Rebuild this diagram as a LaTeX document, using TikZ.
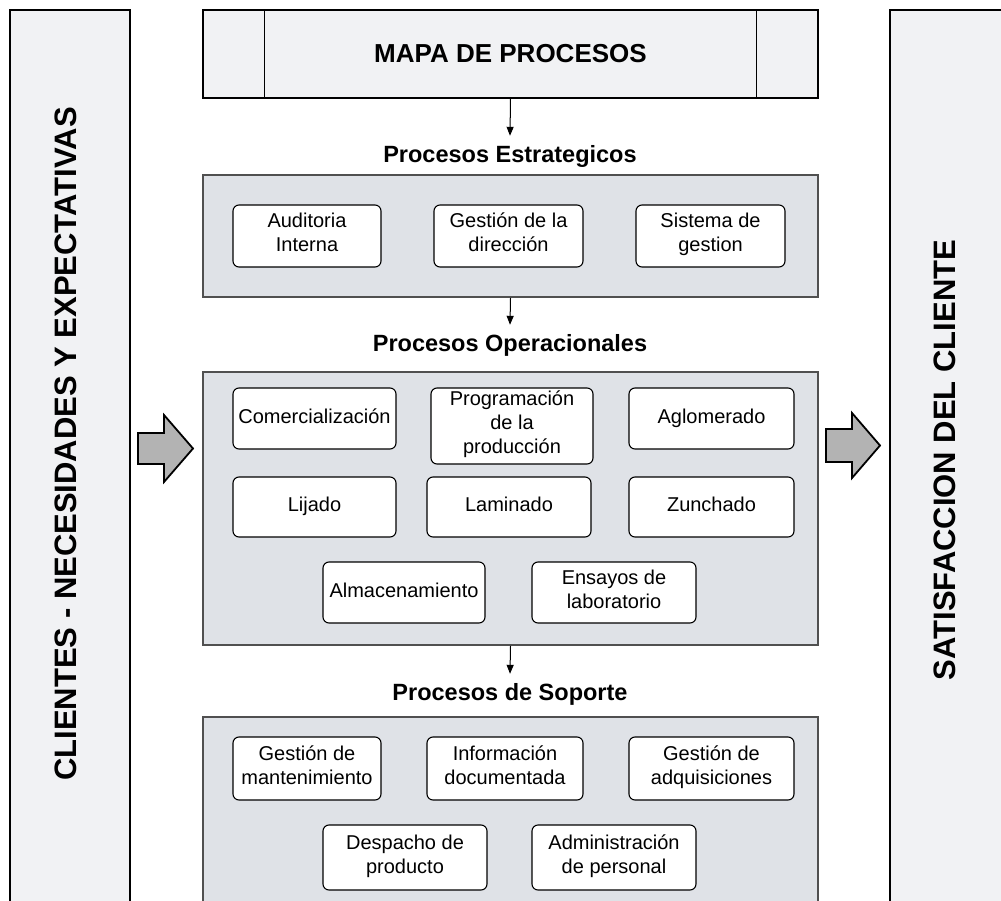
\documentclass[tikz,border=0pt]{standalone}
\usepackage{fontspec}
\setmainfont{Liberation Sans}
\usetikzlibrary{arrows.meta}
\definecolor{panelfill}{HTML}{DFE2E7}
\definecolor{sidefill}{HTML}{F1F2F4}
\definecolor{panelline}{HTML}{505050}
\definecolor{arrowfill}{HTML}{B3B3B3}
\begin{document}
\begin{tikzpicture}[x=1pt,y=-1pt,
  proc/.style={draw, rounded corners=6pt, fill=white, line width=1.1pt,
    align=center, inner sep=0pt, font=\fontsize{20}{24}\selectfont,
    execute at begin node=\strut, execute at end node=\strut},
  panel/.style={draw=panelline, fill=panelfill, line width=1.8pt, inner sep=0pt},
  side/.style={draw, fill=sidefill, line width=1.4pt, inner sep=0pt},
  sidetext/.style={rotate=90, font=\bfseries\fontsize{31}{36}\selectfont},
  section/.style={font=\bfseries\fontsize{23.5}{27}\selectfont, minimum height=40pt, inner sep=0pt},
  flow/.style={-{Triangle[length=9pt,width=7pt]}, line width=1pt},
  blockarrow/.style={draw, fill=arrowfill, line width=1.8pt, line join=miter}
]
\useasboundingbox (0,0) rectangle (1001,901);
\clip (0,0) rectangle (1001,901);

% side columns
\node[side, minimum width=120pt, minimum height=930pt] (clientes) at (70,475) {};
\node[sidetext] (clientesT) at (66,444) {CLIENTES - NECESIDADES Y EXPECTATIVAS};
\node[side, minimum width=130pt, minimum height=930pt] (satisf) at (955,475) {};
\node[sidetext] (satisfT) at (945,460) {SATISFACCION DEL CLIENTE};

% title box with inner bars
\node[side, minimum width=615pt, minimum height=88pt,
      font=\bfseries\fontsize{26}{30}\selectfont] (title) at (510.5,54) {MAPA DE PROCESOS};
\draw[line width=1.4pt] ([xshift=62pt]title.north west) -- ([xshift=62pt]title.south west);
\draw[line width=1.4pt] ([xshift=-62pt]title.north east) -- ([xshift=-62pt]title.south east);

% strategic processes
\node[section] (secE) at (510,156) {Procesos Estrategicos};
\node[panel, minimum width=615pt, minimum height=122pt] (pE) at (510.5,236) {};
\node[proc, minimum width=148pt, minimum height=62pt] (audit) at (307,236) {Auditoria\\Interna};
\node[proc, minimum width=149pt, minimum height=62pt] (direc) at (508.5,236) {Gestión de la\\dirección};
\node[proc, minimum width=149pt, minimum height=62pt] (sisg) at (710.5,236) {Sistema de\\gestion};

% operational processes
\node[section] (secO) at (510,345) {Procesos Operacionales};
\node[panel, minimum width=615pt, minimum height=273pt] (pO) at (510.5,508.5) {};
\node[proc, minimum width=163pt, minimum height=61pt] (comer) at (314.5,418.5) {Comercialización};
\node[proc, minimum width=162pt, minimum height=76pt] (progr) at (512,426) {Programación\\de la\\producción};
\node[proc, minimum width=165pt, minimum height=61pt] (aglom) at (711.5,418.5) {Aglomerado};
\node[proc, minimum width=163pt, minimum height=60pt] (lijad) at (314.5,507) {Lijado};
\node[proc, minimum width=164pt, minimum height=60pt] (lamin) at (509,507) {Laminado};
\node[proc, minimum width=165pt, minimum height=60pt] (zunch) at (711.5,507) {Zunchado};
\node[proc, minimum width=162pt, minimum height=61pt] (almac) at (404,592.5) {Almacenamiento};
\node[proc, minimum width=164pt, minimum height=61pt] (ensay) at (614,592.5) {Ensayos de\\laboratorio};

% support processes
\node[section] (secS) at (510,694) {Procesos de Soporte};
\node[panel, minimum width=615pt, minimum height=213pt] (pS) at (510.5,823.5) {};
\node[proc, minimum width=148pt, minimum height=63pt] (mante) at (307,768.5) {Gestión de\\mantenimiento};
\node[proc, minimum width=156pt, minimum height=63pt] (infor) at (505,768.5) {Información\\documentada};
\node[proc, minimum width=165pt, minimum height=63pt] (adqui) at (711.5,768.5) {Gestión de\\adquisiciones};
\node[proc, minimum width=164pt, minimum height=65pt] (despa) at (405,857.5) {Despacho de\\producto};
\node[proc, minimum width=164pt, minimum height=65pt] (admin) at (614,857.5) {Administración\\de personal};

% flow between levels
\draw[flow] (title.south) -- (secE.north);
\draw[flow] (pE.south) -- (secO.north);
\draw[flow] (pO.south) -- (secS.north);

% block arrows in and out
\draw[blockarrow] (138,433) -- (164,433) -- (164,415) -- (193,448.5) -- (164,482) -- (164,464) -- (138,464) -- cycle;
\draw[blockarrow] (826,429) -- (852,429) -- (852,413) -- (880,445.5) -- (852,478) -- (852,462) -- (826,462) -- cycle;
\end{tikzpicture}
\end{document}
